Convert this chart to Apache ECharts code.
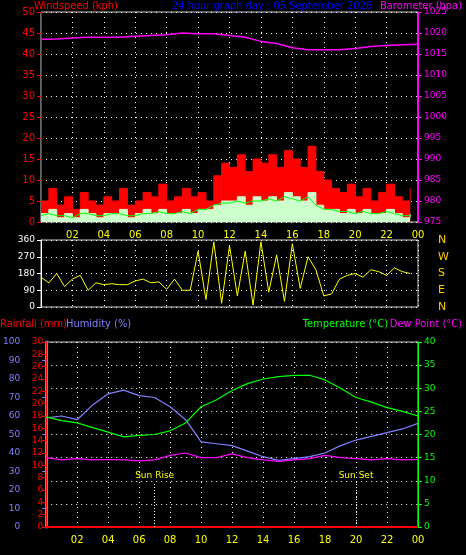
<!DOCTYPE html><html><head><meta charset="utf-8">
<script src="https://cdn.jsdelivr.net/npm/echarts@6/dist/echarts.min.js"></script>
<style>html,body{margin:0;background:#000}#c{width:466px;height:555px}</style></head><body><div id="c"></div>
<script>
const hourTicks=['02','04','06','08','10','12','14','16','18','20','22','00'];
const gust=[5,8,4,6,3,7,5,4, 6,5,8,4,5,7,6,9, 5,6,8,6,7,5,11,14, 13,16,12,15,14,16,13,17, 15,13,18,12,10,8,7,9, 6,8,5,7,9,6,5,8];
const speed=[2,3,1,2,1,3,2,1, 2,2,3,1,2,3,2,3, 2,2,3,2,3,3,4,5, 5,6,4,6,5,6,5,7, 6,5,7,4,3,3,2,3, 2,3,2,2,3,2,1,2];
const avgWind=[1.5,2,1.5,1.5,1,2,2,1.5, 1.5,2,2,1.5,1.5,2,2,2.5, 2,2,2.5,2,3,3,4,4.5, 4.5,5,4.5,5,5,5.5,5,6, 5.5,5,6,4,3,3,2.5,2.5, 2,2.5,2,2,2.5,2,1.5,1.5];
const windDir=[160,130,180,110,150,170,90,130, 120,125,120,120,140,150,130,135, 95,150,90,90,300,40,350,20, 330,60,300,10,350,80,280,30, 340,100,270,200,60,70,150,170, 180,160,200,190,170,210,190,180];
const temp=[23.8,23,22.5,21.5,20.5,19.5,19.8,20,20.8,22.5,26,27.5,29.5,31,32,32.5,32.8,32.8,31.8,30,28,27,25.8,25,24];
const hum=[59,60,58,66,72,74,71,70,65,58,46,45,44,41,38,36,37,38,40,44,47,49,51,53,56];
const dew=[15,14.5,14.8,14.5,14.6,14.5,14.3,14.5,15.5,16,15,15,15.8,15,14.5,14.2,14.5,14.8,15.5,15,14.8,14.5,14.8,14.5,14.6];
const baro=[1018.5,1018.6,1018.8,1019,1019,1019,1019.2,1019.4,1019.6,1020,1019.8,1019.8,1019.4,1019,1018,1017.5,1016.5,1016,1016,1016,1016.3,1016.8,1017,1017.2,1017.3];
const rain=[0,0,0,0,0,0,0,0,0,0,0,0,0,0,0,0,0,0,0,0,0,0,0,0,0];
const sunRise=7.0, sunSet=20.0;

const half=a=>a.map((v,i)=>[i*0.5,v]);
const hourly=a=>a.map((v,i)=>[i,v]);
const F='DejaVu Sans';
const T='11px "DejaVu Sans Condensed", "Liberation Sans Narrow", "Liberation Sans"';
const dotted={show:true,lineStyle:{color:'#fff',type:[1,4]}};
const xa=(gi,show)=>({type:'value',gridIndex:gi,min:0,max:24,interval:2,
  axisLine:{show:false},axisTick:{show:false},splitLine:dotted,
  axisLabel:{show:show,color:'#ffff00',fontFamily:F,fontSize:10,showMinLabel:false,formatter:v=>hourTicks[v/2-1]||''}});
const lab=(c,s,m)=>({color:c,fontFamily:F,fontSize:s,margin:m||6,formatter:v=>String(v)});
const ya=(gi,o)=>Object.assign({type:'value',gridIndex:gi,axisTick:{show:true,length:4},splitLine:{show:false}},o);
const chart=echarts.init(document.getElementById('c'));
chart.setOption({backgroundColor:'#000',animation:false,
 grid:[
  {left:41,right:48,top:12,height:210,show:true,borderColor:'#ccc',borderWidth:1},
  {left:41,right:48,top:240,height:67,show:true,borderColor:'#ccc',borderWidth:1},
  {left:41,right:48,top:342,height:185,show:true,borderColor:'#ccc',borderWidth:1}],
 xAxis:[xa(0,true),xa(1,false),xa(2,true)],
 yAxis:[
  ya(0,{position:'left',min:0,max:50,interval:5,axisLine:{show:true,lineStyle:{color:'#f00'}},axisLabel:lab('#f00',10),splitLine:dotted}),
  ya(0,{position:'right',min:975,max:1025,interval:5,axisLine:{show:true,lineStyle:{color:'#f0f'}},axisLabel:lab('#f0f',9)}),
  ya(1,{position:'left',min:0,max:360,interval:90,axisLine:{show:true,lineStyle:{color:'#fff'}},axisLabel:lab('#fff',9),splitLine:dotted}),
  ya(1,{position:'right',min:0,max:360,interval:90,axisLine:{show:false},axisTick:{show:false},axisLabel:{color:'#ffcc00',fontFamily:F,fontSize:11,margin:20,formatter:v=>({0:'N',90:'E',180:'S',270:'W',360:'N'})[v]}}),
  ya(2,{position:'left',min:0,max:100,interval:10,offset:22,axisLine:{show:true,lineStyle:{color:'#8080ff',width:3}},axisLabel:lab('#8080ff',9,4)}),
  ya(2,{position:'left',min:0,max:30,interval:2,axisLine:{show:true,lineStyle:{color:'#f00'}},axisLabel:lab('#f00',9,3)}),
  ya(2,{position:'right',min:0,max:40,interval:5,axisLine:{show:true,lineStyle:{color:'#0f0'}},axisLabel:lab('#0f0',9),splitLine:dotted})
 ],
 series:[
  {type:'line',step:'end',xAxisIndex:0,yAxisIndex:0,data:half(gust),symbol:'none',lineStyle:{color:'#f00',width:1},areaStyle:{color:'#f00',opacity:1}},
  {type:'line',step:'end',xAxisIndex:0,yAxisIndex:0,data:half(speed),symbol:'none',lineStyle:{color:'#cfc',width:1},areaStyle:{color:'#cfc',opacity:1}},
  {type:'line',xAxisIndex:0,yAxisIndex:0,data:half(avgWind),symbol:'none',lineStyle:{color:'#0f0',width:1}},
  {type:'line',xAxisIndex:0,yAxisIndex:1,data:hourly(baro),symbol:'none',lineStyle:{color:'#f0f',width:1.5}},
  {type:'line',xAxisIndex:1,yAxisIndex:2,data:half(windDir),symbol:'none',lineStyle:{color:'#ff0',width:1}},
  {type:'line',xAxisIndex:2,yAxisIndex:4,data:hourly(hum),symbol:'none',lineStyle:{color:'#8080ff',width:1.2}},
  {type:'line',xAxisIndex:2,yAxisIndex:6,data:hourly(temp),symbol:'none',lineStyle:{color:'#0f0',width:1.2}},
  {type:'line',xAxisIndex:2,yAxisIndex:6,data:hourly(dew),symbol:'none',lineStyle:{color:'#f0f',width:1.2}},
  {type:'line',xAxisIndex:2,yAxisIndex:5,data:hourly(rain),symbol:'none',lineStyle:{color:'#f00',width:2},
   markLine:{symbol:'none',silent:true,lineStyle:{color:'#fff',type:[1,2],width:1},
    label:{color:'#ffff00',fontFamily:F,fontSize:9,position:'end',distance:4},
    data:[[{coord:[sunRise,0]},{coord:[sunRise,7],name:'Sun Rise'}],[{coord:[sunSet,0]},{coord:[sunSet,7],name:'Sun Set'}]]}}
 ],
 graphic:[
  {type:'text',left:34,top:1,style:{text:'Windspeed (kph)',fill:'#f00',font:T}},
  {type:'text',left:172,top:1,style:{text:'24 hour graph day : 05 September 2026',fill:'#0000ff',font:T}},
  {type:'text',right:4,top:1,style:{text:'Barometer (hpa)',fill:'#f0f',font:T}},
  {type:'text',left:0,top:319,style:{text:'Rainfall (mm)',fill:'#f00',font:T}},
  {type:'text',left:66,top:319,style:{text:'Humidity (%)',fill:'#8080ff',font:T}},
  {type:'text',right:78,top:319,style:{text:'Temperature (°C)',fill:'#0f0',font:T}},
  {type:'text',right:4,top:319,style:{text:'Dew Point (°C)',fill:'#f0f',font:T}}
 ]});
</script></body></html>
